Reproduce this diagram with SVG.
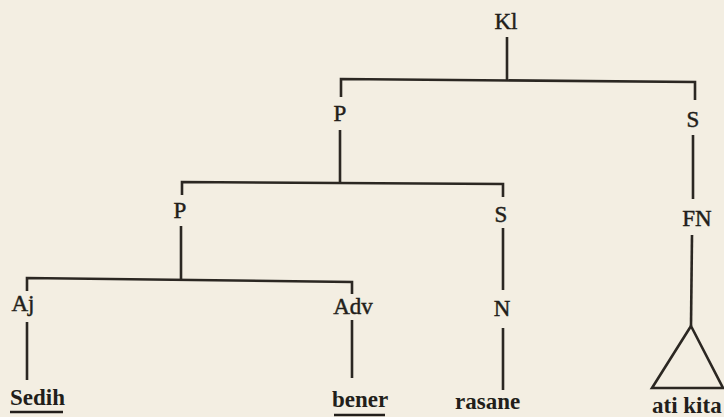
<svg xmlns="http://www.w3.org/2000/svg" width="724" height="417" viewBox="0 0 724 417">
  <style>
    .edge { fill: none; stroke: #2b2722; stroke-width: 2.6; stroke-linecap: butt; stroke-linejoin: miter; }
    .cat { font-family: "Liberation Serif", "Times New Roman", serif; font-size: 23px; fill: #221e1a; stroke: #221e1a; stroke-width: 0.45; text-anchor: middle; }
    .word { font-family: "Liberation Serif", "Times New Roman", serif; font-size: 23px; font-weight: bold; fill: #221e1a; }
    .ul { stroke: #221e1a; stroke-width: 2.4; }
  </style>
  <rect width="724" height="417" fill="#f3eee2"/>

  <!-- branches of the tree -->
  <g id="connectors">
    <line class="edge" x1="507" y1="37" x2="507" y2="80"/>
    <path class="edge" d="M341 97 V79 L695 82 V100"/>
    <line class="edge" x1="340" y1="130" x2="340" y2="183"/>
    <line class="edge" x1="693" y1="135" x2="693" y2="199"/>
    <path class="edge" d="M182 195 V182 L503 184 V197"/>
    <line class="edge" x1="181" y1="226" x2="181" y2="280"/>
    <line class="edge" x1="503" y1="228" x2="503" y2="290"/>
    <line class="edge" x1="503" y1="328" x2="503" y2="390"/>
    <path class="edge" d="M27 291 V278 L352 282 V294"/>
    <line class="edge" x1="27" y1="322" x2="27" y2="380"/>
    <line class="edge" x1="352" y1="320" x2="352" y2="378"/>
    <line class="edge" x1="692" y1="235" x2="691" y2="326"/>
  </g>

  <g id="node-kl"><text class="cat" x="506" y="29">Kl</text></g>
  <g id="node-p1"><text class="cat" x="340" y="121">P</text></g>
  <g id="node-s1"><text class="cat" x="693" y="127">S</text></g>
  <g id="node-p2"><text class="cat" x="180" y="218">P</text></g>
  <g id="node-s2"><text class="cat" x="501" y="222">S</text></g>
  <g id="node-fn"><text class="cat" x="697" y="226">FN</text></g>
  <g id="node-aj"><text class="cat" x="23" y="311">Aj</text></g>
  <g id="node-adv"><text class="cat" x="353" y="314">Adv</text></g>
  <g id="node-n"><text class="cat" x="502" y="316">N</text></g>

  <g id="leaf-sedih">
    <text class="word" x="10" y="405">Sedih</text>
    <line class="ul" x1="10" y1="412" x2="63" y2="412"/>
  </g>
  <g id="leaf-bener">
    <text class="word" x="332" y="407">bener</text>
    <line class="ul" x1="334" y1="415" x2="385" y2="415"/>
  </g>
  <g id="leaf-rasane">
    <text class="word" x="455" y="409">rasane</text>
  </g>
  <g id="leaf-ati-kita">
    <polygon class="edge" points="691,326 652,388 723,388"/>
    <text class="word" x="652" y="413">ati kita</text>
  </g>
</svg>
